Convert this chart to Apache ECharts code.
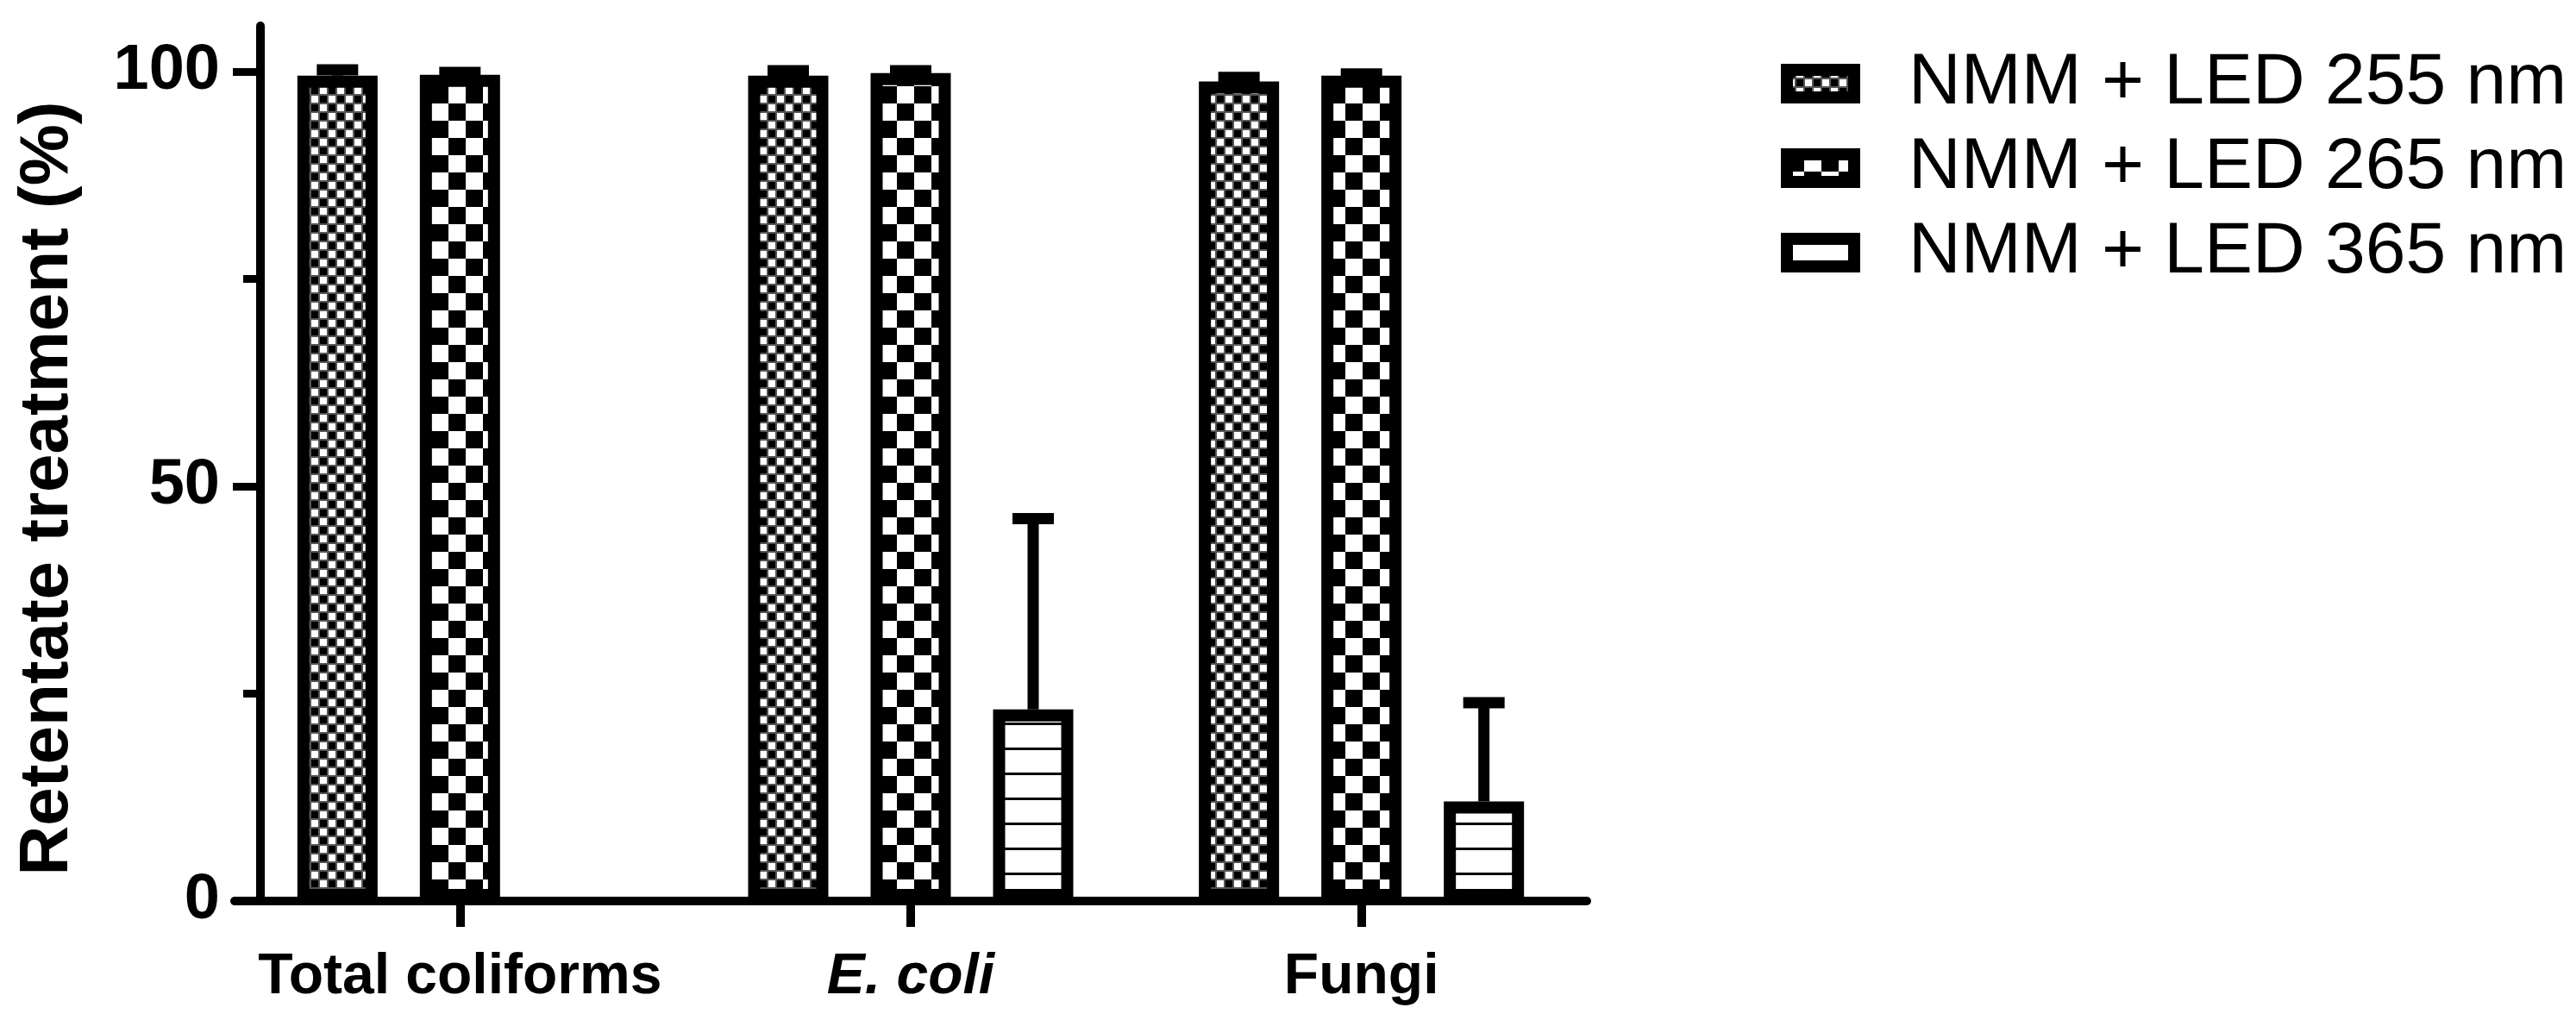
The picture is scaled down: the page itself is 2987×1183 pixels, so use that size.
<!DOCTYPE html>
<html>
<head>
<meta charset="utf-8">
<script src="https://cdn.jsdelivr.net/npm/echarts@6/dist/echarts.min.js"></script>
<style>
  html, body { margin: 0; padding: 0; background: #fff; }
  #chart { width: 2987px; height: 1183px; }
</style>
</head>
<body>
<div id="chart"></div>
<script>
// values
const categories = ['Total coliforms', 'E. coli', 'Fungi'];
const seriesNames = ['NMM + LED 255 nm', 'NMM + LED 265 nm', 'NMM + LED 365 nm'];
const led255 = [99.5, 99.5, 98.8];
const led255Sd = [0.7, 0.6, 0.5];
const led265 = [99.6, 99.8, 99.5];
const led265Sd = [0.3, 0.3, 0.2];
const led365 = [null, 23.1, 12.0];
const led365Sd = [null, 23.0, 11.9];
const yTicks = [0, 50, 100];
const yMinorTicks = [25, 75];

const BAR_WIDTH = 93;
const BAR_GAP = 0.527;
const BORDER = 14;
const CAP = 48;
const FONT = 'Liberation Sans';

function makePattern(w, h, draw) {
  const c = document.createElement('canvas');
  c.width = w;
  c.height = h;
  const ctx = c.getContext('2d');
  ctx.fillStyle = '#fff';
  ctx.fillRect(0, 0, w, h);
  ctx.fillStyle = '#000';
  draw(ctx);
  return { image: c, repeat: 'repeat' };
}

// fine dotted checker
const fill255 = makePattern(20, 20, function (ctx) {
  ctx.fillStyle = '#555';
  ctx.fillRect(0, 0, 20, 20);
  ctx.fillStyle = '#fff';
  ctx.fillRect(11, 1, 8, 8);
  ctx.fillRect(1, 11, 8, 8);
  ctx.fillStyle = '#000';
  ctx.fillRect(1, 1, 8, 8);
  ctx.fillRect(11, 11, 8, 8);
});
// coarse checker
const fill265 = makePattern(40, 40, function (ctx) {
  ctx.fillRect(0, 0, 20, 20);
  ctx.fillRect(20, 20, 20, 20);
});
// horizontal lines
const fill365 = makePattern(8, 29, function (ctx) {
  ctx.fillRect(0, 26, 8, 3);
});

const fills = [fill255, fill265, fill365];
const values = [led255, led265, led365];
const sds = [led255Sd, led265Sd, led365Sd];

const chart = echarts.init(document.getElementById('chart'));

const barSeries = seriesNames.map(function (name, i) {
  return {
    name: name,
    type: 'bar',
    barWidth: BAR_WIDTH,
    barGap: (BAR_GAP * 100) + '%',
    data: values[i].map(function (v) { return v == null ? '-' : v; }),
    itemStyle: {
      color: fills[i],
      borderColor: '#000',
      borderWidth: BORDER
    },
    emphasis: { disabled: true },
    z: 2
  };
});

const errData = [];
values.forEach(function (arr, s) {
  arr.forEach(function (v, c) {
    if (v != null) errData.push([c, v, sds[s][c], s]);
  });
});

function renderErrorBar(params, api) {
  const base = api.coord([api.value(0), api.value(1)]);
  const top = api.coord([api.value(0), api.value(1) + api.value(2)]);
  const x = base[0] + (api.value(3) - 1) * BAR_WIDTH * (1 + BAR_GAP);
  return {
    type: 'group',
    children: [
      { type: 'line', shape: { x1: x, y1: base[1], x2: x, y2: top[1] },
        style: { stroke: '#000', lineWidth: 13 } },
      { type: 'line', shape: { x1: x - CAP / 2, y1: top[1], x2: x + CAP / 2, y2: top[1] },
        style: { stroke: '#000', lineWidth: 13 } }
    ]
  };
}

const option = {
  animation: false,
  backgroundColor: '#fff',
  grid: {
    left: 272,
    right: 2987 - 1840,
    top: 30,
    bottom: 138
  },
  legend: {
    data: seriesNames,
    orient: 'vertical',
    left: 2060,
    top: 50,
    itemWidth: 78,
    itemHeight: 32,
    itemGap: 14,
    icon: 'rect',
    selectedMode: false,
    itemStyle: { borderColor: '#000', borderWidth: BORDER },
    textStyle: {
      fontFamily: FONT,
      fontSize: 84,
      color: '#000',
      padding: [0, 0, 0, 58]
    }
  },
  xAxis: {
    type: 'category',
    data: categories,
    axisLine: { lineStyle: { color: '#000', width: 10 } },
    axisTick: { show: true, alignWithLabel: true, interval: 0, length: 30, lineStyle: { color: '#000', width: 10 } },
    axisLabel: {
      interval: 0,
      margin: 56,
      fontFamily: FONT,
      fontSize: 66,
      fontWeight: 'bold',
      color: '#000',
      formatter: function (v) { return v === 'E. coli' ? '{i|' + v + '}' : v; },
      rich: {
        i: { fontFamily: FONT, fontSize: 66, fontWeight: 'bold', fontStyle: 'italic', color: '#000' }
      }
    }
  },
  yAxis: [{
    type: 'value',
    position: 'left',
    offset: -30,
    min: 0,
    max: 105.5,
    name: 'Retentate treatment (%)',
    nameLocation: 'middle',
    nameGap: 206,
    nameTextStyle: {
      fontFamily: FONT, fontSize: 80, fontWeight: 'bold', color: '#000',
      padding: [0, 58, 0, 0]
    },
    axisLine: { show: true, lineStyle: { color: '#000', width: 10 } },
    axisTick: { show: true, customValues: yTicks, length: 32, lineStyle: { color: '#000', width: 9 } },
    axisLabel: {
      customValues: yTicks,
      margin: 47,
      fontFamily: FONT,
      fontSize: 74,
      fontWeight: 'bold',
      color: '#000'
    },
    splitLine: { show: false }
  }, {
    type: 'value',
    position: 'left',
    offset: -30,
    min: 0,
    max: 105.5,
    axisLine: { show: false },
    axisTick: { show: true, customValues: yMinorTicks, length: 20, lineStyle: { color: '#000', width: 9 } },
    axisLabel: { show: false },
    splitLine: { show: false }
  }],
  series: barSeries.concat([{
    type: 'custom',
    name: 'sd',
    renderItem: renderErrorBar,
    encode: { x: 0, y: 1 },
    data: errData,
    z: 3,
    silent: true
  }])
};

chart.setOption(option);
</script>
</body>
</html>
